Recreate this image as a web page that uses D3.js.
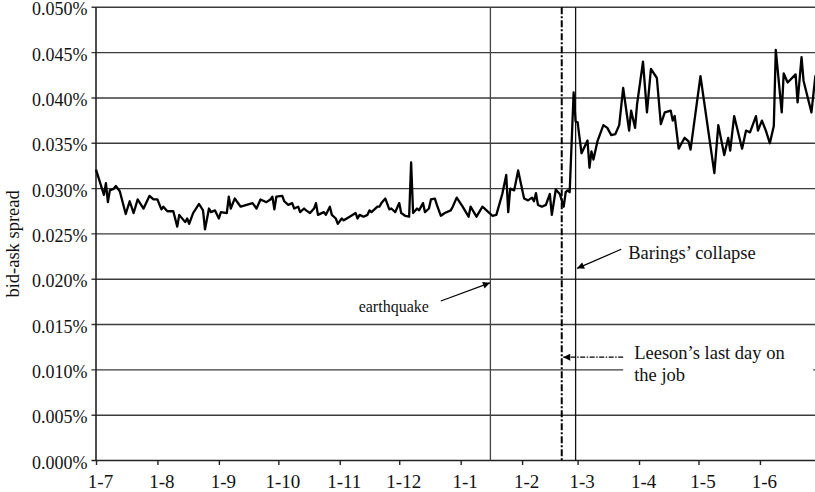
<!DOCTYPE html>
<html>
<head>
<meta charset="utf-8">
<script src="https://cdn.jsdelivr.net/npm/d3@7"></script>
<style>
  html, body { margin: 0; padding: 0; background: #fff; }
  svg { display: block; font-family: "Liberation Serif", "Times New Roman", serif; }
</style>
</head>
<body>
<svg id="chart" width="815" height="492"></svg>
<script>
// Daily bid-ask spread (in percent), July 1994 - June 1995
const tradeDates = [
  "1994-07-01","1994-07-05","1994-07-06","1994-07-07","1994-07-08","1994-07-10","1994-07-11","1994-07-13",
  "1994-07-16","1994-07-18","1994-07-20","1994-07-22","1994-07-25","1994-07-28","1994-07-30","1994-08-01",
  "1994-08-03","1994-08-04","1994-08-06","1994-08-09","1994-08-11","1994-08-12","1994-08-15","1994-08-16",
  "1994-08-17","1994-08-19","1994-08-22","1994-08-24","1994-08-25","1994-08-27","1994-08-28","1994-08-30",
  "1994-09-01","1994-09-02","1994-09-05","1994-09-06","1994-09-07","1994-09-09","1994-09-12","1994-09-15",
  "1994-09-18","1994-09-20","1994-09-22","1994-09-25","1994-09-27","1994-09-28","1994-09-29","1994-09-30",
  "1994-10-03","1994-10-04","1994-10-06","1994-10-08","1994-10-09","1994-10-11","1994-10-12","1994-10-14",
  "1994-10-15","1994-10-17","1994-10-19","1994-10-20","1994-10-21","1994-10-24","1994-10-25","1994-10-27",
  "1994-10-28","1994-10-30","1994-10-31","1994-11-02","1994-11-03","1994-11-06","1994-11-09","1994-11-10",
  "1994-11-11","1994-11-13","1994-11-15","1994-11-16","1994-11-17","1994-11-20","1994-11-21","1994-11-22",
  "1994-11-24","1994-11-26","1994-11-27","1994-11-29","1994-12-01","1994-12-02","1994-12-04","1994-12-06",
  "1994-12-07","1994-12-08","1994-12-10","1994-12-11","1994-12-13","1994-12-14","1994-12-16","1994-12-17",
  "1994-12-19","1994-12-20","1994-12-22","1994-12-24","1994-12-27","1994-12-28","1994-12-30","1995-01-02",
  "1995-01-05","1995-01-06","1995-01-09","1995-01-12","1995-01-15","1995-01-17","1995-01-19","1995-01-22",
  "1995-01-24","1995-01-25","1995-01-26","1995-01-28","1995-01-30","1995-02-02","1995-02-04","1995-02-06",
  "1995-02-07","1995-02-08","1995-02-09","1995-02-11","1995-02-13","1995-02-15","1995-02-16","1995-02-18",
  "1995-02-20","1995-02-22","1995-02-23","1995-02-24","1995-02-25","1995-02-27","1995-02-28","1995-03-01",
  "1995-03-03","1995-03-06","1995-03-07","1995-03-08","1995-03-09","1995-03-11","1995-03-14","1995-03-16",
  "1995-03-18","1995-03-20","1995-03-22","1995-03-24","1995-03-27","1995-03-28","1995-03-30","1995-03-31",
  "1995-04-03","1995-04-05","1995-04-07","1995-04-10","1995-04-12","1995-04-14","1995-04-17","1995-04-18",
  "1995-04-19","1995-04-21","1995-04-24","1995-04-26","1995-04-27","1995-05-02","1995-05-09","1995-05-11",
  "1995-05-14","1995-05-16","1995-05-17","1995-05-19","1995-05-23","1995-05-25","1995-05-27","1995-05-30",
  "1995-05-31","1995-06-02","1995-06-04","1995-06-06","1995-06-08","1995-06-09","1995-06-12","1995-06-13",
  "1995-06-15","1995-06-19","1995-06-20","1995-06-22","1995-06-23","1995-06-27","1995-06-29"
];
const spreadPct = [
  0.0321,0.0293,0.0306,0.0285,0.0298,0.0300,0.0303,0.0297,
  0.0272,0.0286,0.0273,0.0288,0.0278,0.0292,0.0288,0.0288,
  0.0277,0.0280,0.0275,0.0275,0.0258,0.0271,0.0263,0.0267,
  0.0261,0.0273,0.0283,0.0276,0.0255,0.0278,0.0274,0.0276,
  0.0267,0.0274,0.0273,0.0291,0.0278,0.0289,0.0280,0.0282,
  0.0284,0.0278,0.0288,0.0285,0.0288,0.0291,0.0277,0.0291,
  0.0292,0.0286,0.0282,0.0284,0.0278,0.0280,0.0274,0.0278,
  0.0276,0.0273,0.0278,0.0284,0.0271,0.0274,0.0271,0.0280,
  0.0271,0.0267,0.0261,0.0267,0.0265,0.0269,0.0273,0.0267,
  0.0271,0.0269,0.0271,0.0276,0.0274,0.0280,0.0280,0.0284,
  0.0289,0.0277,0.0278,0.0274,0.0284,0.0273,0.0270,0.0269,
  0.0329,0.0273,0.0278,0.0276,0.0284,0.0274,0.0278,0.0288,
  0.0289,0.0282,0.0270,0.0273,0.0276,0.0280,0.0290,0.0280,
  0.0269,0.0280,0.0269,0.0280,0.0274,0.0270,0.0271,0.0294,
  0.0315,0.0274,0.0300,0.0298,0.0320,0.0289,0.0287,0.0290,
  0.0286,0.0295,0.0282,0.0280,0.0282,0.0294,0.0271,0.0299,
  0.0294,0.0280,0.0296,0.0298,0.0296,0.0406,0.0374,0.0373,
  0.0339,0.0353,0.0323,0.0341,0.0332,0.0352,0.0370,0.0367,
  0.0359,0.0360,0.0370,0.0411,0.0364,0.0386,0.0367,0.0393,
  0.0440,0.0384,0.0432,0.0422,0.0371,0.0384,0.0386,0.0375,
  0.0380,0.0344,0.0356,0.0352,0.0343,0.0424,0.0317,0.0370,
  0.0337,0.0356,0.0342,0.0380,0.0344,0.0364,0.0362,0.0380,
  0.0364,0.0375,0.0364,0.0350,0.0369,0.0453,0.0384,0.0427,
  0.0417,0.0426,0.0395,0.0445,0.0419,0.0384,0.0425
];

// Axis ticks
const yTickValues = [0, 0.005, 0.010, 0.015, 0.020, 0.025, 0.030, 0.035, 0.040, 0.045, 0.050];
const monthTicks = ["1994-07-01","1994-08-01","1994-09-01","1994-10-01","1994-11-01","1994-12-01",
                    "1995-01-01","1995-02-01","1995-03-01","1995-04-01","1995-05-01","1995-06-01"];

// Marked events
const eventNames = ["earthquake", "leeson", "barings"];
const eventDates = ["1995-01-16", "1995-02-21", "1995-02-28"];

const parse = d3.timeParse("%Y-%m-%d");
const series = tradeDates.map((d, i) => ({ date: parse(d), v: spreadPct[i] }));

const svg = d3.select("#chart");
const W = 815;
const plot = { left: 96, top: 7.3, bottom: 460.5, right: 815 };

const x = d3.scaleTime()
  .domain([parse("1994-07-01"), parse("1995-06-30")])
  .range([plot.left, 817.4]);
const y = d3.scaleLinear().domain([0, 0.05]).range([plot.bottom, plot.top]);

const gridColor = "#3c3c3c";

// horizontal gridlines with short outside ticks
svg.append("g")
  .selectAll("line")
  .data(yTickValues)
  .join("line")
  .attr("x1", plot.left - 4.5)
  .attr("x2", W)
  .attr("y1", d => y(d))
  .attr("y2", d => y(d))
  .attr("stroke", d => d === 0 ? "#222" : gridColor)
  .attr("stroke-width", 1.4);

// y tick labels
const fmtPct = d => d3.format(".3f")(d) + "%";
svg.append("g")
  .selectAll("text")
  .data(yTickValues)
  .join("text")
  .attr("x", plot.left - 8.5)
  .attr("y", d => y(d) + 8)
  .attr("text-anchor", "end")
  .attr("font-size", 18)
  .attr("fill", "#111")
  .text(fmtPct);

// left axis line
svg.append("line")
  .attr("x1", plot.left).attr("x2", plot.left)
  .attr("y1", plot.top).attr("y2", plot.bottom)
  .attr("stroke", "#222").attr("stroke-width", 1.6);

// month ticks on the x axis
const xAxis = d3.axisBottom(x)
  .tickValues(monthTicks.map(parse))
  .tickFormat(d3.timeFormat("1-%-m"))
  .tickSize(4.5)
  .tickPadding(10);
const gx = svg.append("g")
  .attr("transform", `translate(0,${plot.bottom})`)
  .call(xAxis);
gx.select(".domain").remove();
gx.selectAll(".tick line").attr("stroke", "#222").attr("stroke-width", 1.4);
gx.selectAll(".tick text")
  .attr("font-family", "Liberation Serif, Times New Roman, serif")
  .attr("font-size", 19)
  .attr("fill", "#111")
  .attr("dx", 4);

// y axis title
svg.append("text")
  .attr("transform", `translate(19,${(plot.top + plot.bottom) / 2 + 10}) rotate(-90)`)
  .attr("text-anchor", "middle")
  .attr("font-size", 18.5)
  .attr("fill", "#111")
  .text("bid-ask spread");

// event verticals
const ev = {};
eventNames.forEach((n, i) => ev[n] = parse(eventDates[i]));

svg.append("line")
  .attr("x1", x(ev.earthquake)).attr("x2", x(ev.earthquake))
  .attr("y1", plot.top).attr("y2", plot.bottom)
  .attr("stroke", "#444").attr("stroke-width", 1.3);

svg.append("line")
  .attr("x1", x(ev.barings)).attr("x2", x(ev.barings))
  .attr("y1", plot.top).attr("y2", plot.bottom)
  .attr("stroke", "#111").attr("stroke-width", 1.3);

svg.append("line")
  .attr("x1", x(ev.leeson)).attr("x2", x(ev.leeson))
  .attr("y1", plot.top).attr("y2", plot.bottom)
  .attr("stroke", "#000").attr("stroke-width", 2)
  .attr("stroke-dasharray", "7,2,2,2");

// spread series
const line = d3.line()
  .x(d => x(d.date))
  .y(d => y(d.v));

svg.append("path")
  .datum(series)
  .attr("d", line)
  .attr("fill", "none")
  .attr("stroke", "#000")
  .attr("stroke-width", 2.3)
  .attr("stroke-linejoin", "round");

// arrowhead marker
svg.append("defs").append("marker")
  .attr("id", "head")
  .attr("viewBox", "0 0 10 10")
  .attr("refX", 10).attr("refY", 5)
  .attr("markerWidth", 9).attr("markerHeight", 7)
  .attr("markerUnits", "userSpaceOnUse")
  .attr("orient", "auto")
  .append("path")
  .attr("d", "M0,0 L10,5 L0,10 Z")
  .attr("fill", "#000");

// earthquake annotation
const eqTail = [x(parse("1994-12-22")), y(0.0176)];
const eqTip = [x(ev.earthquake) - 0.5, y(0.0196)];
svg.append("line")
  .attr("x1", eqTail[0]).attr("y1", eqTail[1])
  .attr("x2", eqTip[0]).attr("y2", eqTip[1])
  .attr("stroke", "#000").attr("stroke-width", 1.2)
  .attr("marker-end", "url(#head)");
svg.append("text")
  .attr("x", eqTail[0] - 12).attr("y", eqTail[1] + 11)
  .attr("text-anchor", "end")
  .attr("font-size", 16)
  .attr("fill", "#111")
  .text("earthquake");

// Barings annotation
const bTail = [x(parse("1995-03-23")), y(0.0233)];
const bTip = [x(ev.barings) + 1.5, y(0.0212)];
svg.append("line")
  .attr("x1", bTail[0]).attr("y1", bTail[1])
  .attr("x2", bTip[0]).attr("y2", bTip[1])
  .attr("stroke", "#000").attr("stroke-width", 1.2)
  .attr("marker-end", "url(#head)");
svg.append("text")
  .attr("x", bTail[0] + 7).attr("y", bTail[1] + 10)
  .attr("font-size", 18.5)
  .attr("fill", "#111")
  .text("Barings\u2019 collapse");

// Leeson annotation: white text box, dash-dot leader
const lTail = [x(parse("1995-03-24")), y(0.0114)];
const lTip = [x(ev.leeson) + 1.5, y(0.0114)];
svg.append("rect")
  .attr("x", lTail[0]).attr("y", lTail[1] - 23)
  .attr("width", 190).attr("height", 64)
  .attr("fill", "#fff");
svg.append("line")
  .attr("x1", lTail[0]).attr("y1", lTail[1])
  .attr("x2", lTip[0]).attr("y2", lTip[1])
  .attr("stroke", "#000").attr("stroke-width", 1.1)
  .attr("stroke-dasharray", "5,1.5,1.5,1.5")
  .attr("marker-end", "url(#head)");
const lt = svg.append("text")
  .attr("font-size", 18.5)
  .attr("fill", "#111");
lt.append("tspan").attr("x", lTail[0] + 11).attr("y", lTail[1] + 2).text("Leeson\u2019s last day on");
lt.append("tspan").attr("x", lTail[0] + 11).attr("y", lTail[1] + 24).text("the job");
</script>
</body>
</html>
